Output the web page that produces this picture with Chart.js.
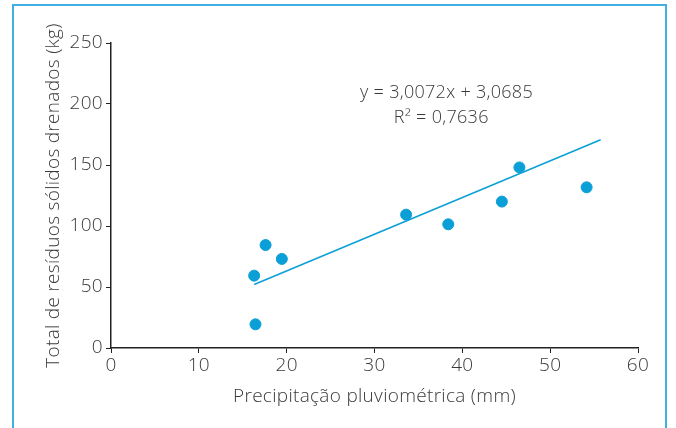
<!DOCTYPE html>
<html>
<head>
<meta charset="utf-8">
<script src="https://cdn.jsdelivr.net/npm/chart.js@4.4.1/dist/chart.umd.min.js"></script>
<style>
  html, body { margin: 0; padding: 0; background: #fff; }
  #wrap { position: relative; width: 676px; height: 428px; }
  #frame { position: absolute; left: 12px; top: 4px; width: 655px; height: 440px; border: 2px solid #3fb0e3; box-sizing: border-box; }
  canvas { position: absolute; left: 0; top: 0; }
</style>
</head>
<body>
<div id="wrap">
  <div id="frame"></div>
  <canvas id="chart" width="676" height="428"></canvas>
</div>
<script>
// precipitação (mm) x resíduos (kg)
var precipitacao = [16.3, 16.45, 17.6, 19.45, 33.6, 38.4, 44.5, 46.5, 54.15];
var residuos = [59.3, 19.4, 84.4, 73.0, 109.3, 101.4, 120.0, 148.0, 131.7];
// linha de tendência y = a x + b
var slope = 3.0072;
var intercept = 3.0685;
var trendRange = [16.3, 55.75];
var equationLines = ['y = 3,0072x + 3,0685', 'R² = 0,7636'];

var blue = '#0a9fd6';
var textColor = '#3a3a3a';
var fontFamily = '"Open Sans", Lato, sans-serif';

var trendData = trendRange.map(function (x) {
    return { x: x, y: slope * x + intercept };
});

// texto um pouco mais espaçado, como no original
var spacingPlugin = {
    id: 'spacing',
    beforeDraw: function (chart) { chart.ctx.letterSpacing = '0.3px'; }
};

var equationPlugin = {
    id: 'equation',
    afterDatasetsDraw: function (chart) {
        var ctx = chart.ctx;
        var xs = chart.scales.x, ys = chart.scales.y;
        ctx.save();
        ctx.fillStyle = textColor;
        ctx.font = '300 18px ' + fontFamily;
        ctx.textAlign = 'center';
        ctx.textBaseline = 'middle';
        ctx.fillText(equationLines[0], xs.getPixelForValue(38.2), ys.getPixelForValue(209));
        ctx.fillText(equationLines[1], xs.getPixelForValue(37.6), ys.getPixelForValue(189));
        ctx.restore();
    }
};

new Chart(document.getElementById('chart'), {
    type: 'scatter',
    data: {
        datasets: [{
            label: 'Resíduos',
            data: precipitacao.map(function (x, i) { return { x: x, y: residuos[i] }; }),
            backgroundColor: blue,
            borderColor: blue,
            pointRadius: 5.5,
            pointHoverRadius: 5.5
        }, {
            label: 'Tendência',
            type: 'line',
            data: trendData,
            borderColor: blue,
            borderWidth: 1.5,
            pointRadius: 0,
            fill: false
        }]
    },
    options: {
        responsive: false,
        animation: false,
        layout: { padding: { left: 0, right: 38, top: 43, bottom: 0 } },
        plugins: {
            legend: { display: false },
            tooltip: { enabled: false }
        },
        scales: {
            x: {
                type: 'linear',
                min: 0,
                max: 60,
                ticks: { stepSize: 10, color: textColor, padding: 1, font: { family: fontFamily, size: 19, weight: 300 } },
                grid: { drawOnChartArea: false, drawTicks: true, tickLength: 5, color: '#222', tickColor: '#222' },
                border: { color: '#222', width: 1.5 },
                title: {
                    display: true,
                    text: 'Precipitação pluviométrica (mm)',
                    color: textColor,
                    font: { family: fontFamily, size: 19, weight: 300 },
                    padding: { top: 0, bottom: 20 }
                },
                afterFit: function (scale) { scale.height = 80; }
            },
            y: {
                min: 0,
                max: 250,
                ticks: { stepSize: 50, color: textColor, padding: 3, font: { family: fontFamily, size: 19, weight: 300 } },
                grid: { drawOnChartArea: false, drawTicks: true, tickLength: 5, color: '#222', tickColor: '#222' },
                border: { color: '#222', width: 1.5 },
                title: {
                    display: true,
                    text: 'Total de resíduos sólidos drenados (kg)',
                    color: textColor,
                    font: { family: fontFamily, size: 19, weight: 300 },
                    padding: { top: 42, bottom: 0 }
                },
                afterFit: function (scale) { scale.width = 111; }
            }
        }
    },
    plugins: [spacingPlugin, equationPlugin]
});
</script>
</body>
</html>
